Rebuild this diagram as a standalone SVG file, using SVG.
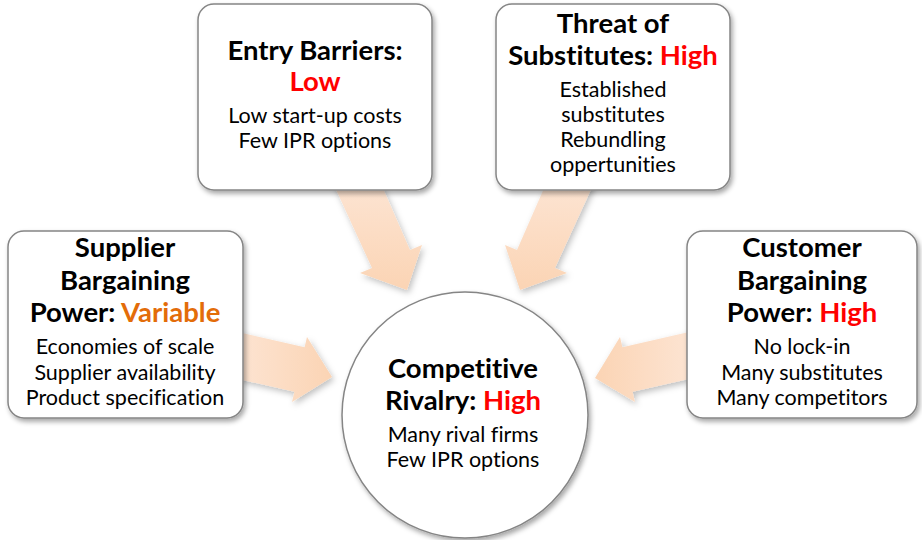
<svg xmlns="http://www.w3.org/2000/svg" width="922" height="540" viewBox="0 0 922 540">
<defs>
<filter id="sh" x="-20%" y="-20%" width="140%" height="140%">
<feDropShadow dx="2" dy="3" stdDeviation="2.5" flood-color="#000" flood-opacity="0.35"/>
</filter>
<filter id="ash" x="-20%" y="-20%" width="140%" height="140%">
<feDropShadow dx="2" dy="3" stdDeviation="3" flood-color="#000" flood-opacity="0.25"/>
</filter>
<linearGradient id="gDown" x1="0" y1="0" x2="0" y2="1">
<stop offset="0" stop-color="#fde6d6"/><stop offset="1" stop-color="#fbd4b4"/>
</linearGradient>
<linearGradient id="gRight" x1="0" y1="0" x2="1" y2="0">
<stop offset="0" stop-color="#fde6d6"/><stop offset="1" stop-color="#fbd4b4"/>
</linearGradient>
<linearGradient id="gLeft" x1="1" y1="0" x2="0" y2="0">
<stop offset="0" stop-color="#fde6d6"/><stop offset="1" stop-color="#fbd4b4"/>
</linearGradient>
</defs>
<style>
text{font-variant-ligatures:none;font-feature-settings:"liga" 0}
.box{fill:#fff;stroke:#858585;stroke-width:1.5;filter:url(#sh)}
.t{font-family:Lato,"Liberation Sans",sans-serif;font-weight:bold;font-size:27.5px;fill:#000;text-anchor:middle}
.b{font-family:Lato,"Liberation Sans",sans-serif;font-size:21.5px;fill:#000;text-anchor:middle}
.red{fill:#ff0000}
.org{fill:#e36c09}
.arr{filter:url(#ash)}
</style>
<rect width="922" height="540" fill="#fff"/>
<g id="connectors">
<polygon class="arr" fill="url(#gDown)" points="327,170 375,170 410,250 422,245 407,290 360,273 372,268"/>
<polygon class="arr" fill="url(#gDown)" points="600,170 552,170 517,250 505,245 520,290 567,273 555,268"/>
<polygon class="arr" fill="url(#gRight)" points="225,329 304.6,347.2 307,337 332,377 292,402 294.4,391.8 225,376"/>
<polygon class="arr" fill="url(#gLeft)" points="702,329 622.4,347.2 620,337 595,378 635,402 632.6,391.8 702,376"/>
</g>
<g id="entry">
<rect class="box" x="198" y="4" width="234" height="186" rx="16"/>
<text class="t" x="315" y="60">Entry Barriers:</text>
<text class="t red" x="315" y="91">Low</text>
<text class="b" x="315" y="123">Low start-up costs</text>
<text class="b" x="315" y="148">Few IPR options</text>
</g>
<g id="substitutes">
<rect class="box" x="496" y="4" width="234" height="186" rx="16"/>
<text class="t" x="613" y="33">Threat of</text>
<text class="t" x="613" y="65">Substitutes: <tspan class="red">High</tspan></text>
<text class="b" x="613" y="97">Established</text>
<text class="b" x="613" y="122">substitutes</text>
<text class="b" x="613" y="147">Rebundling</text>
<text class="b" x="613" y="172">oppertunities</text>
</g>
<g id="supplier">
<rect class="box" x="8" y="231" width="235" height="187" rx="16"/>
<text class="t" x="125" y="257">Supplier</text>
<text class="t" x="125" y="290">Bargaining</text>
<text class="t" x="125" y="322">Power: <tspan class="org">Variable</tspan></text>
<text class="b" x="125" y="354">Economies of scale</text>
<text class="b" x="125" y="380">Supplier availability</text>
<text class="b" x="125" y="405">Product specification</text>
</g>
<g id="customer">
<rect class="box" x="687" y="231" width="230" height="187" rx="16"/>
<text class="t" x="802" y="257">Customer</text>
<text class="t" x="802" y="290">Bargaining</text>
<text class="t" x="802" y="322">Power: <tspan class="red">High</tspan></text>
<text class="b" x="802" y="354">No lock-in</text>
<text class="b" x="802" y="380">Many substitutes</text>
<text class="b" x="802" y="405">Many competitors</text>
</g>
<g id="rivalry">
<circle class="box" cx="465" cy="415" r="123"/>
<text class="t" x="463" y="378">Competitive</text>
<text class="t" x="463" y="410">Rivalry: <tspan class="red">High</tspan></text>
<text class="b" x="463" y="442">Many rival firms</text>
<text class="b" x="463" y="467">Few IPR options</text>
</g>
</svg>
